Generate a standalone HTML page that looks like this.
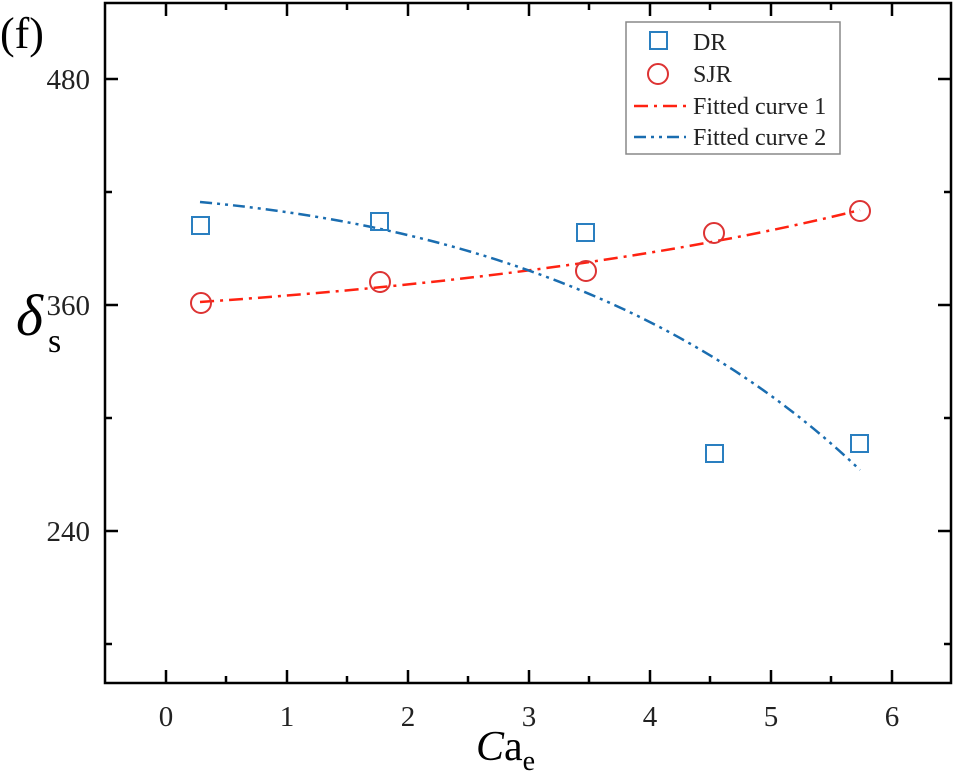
<!DOCTYPE html>
<html><head><style>body{margin:0;background:#fff}</style></head><body>
<svg width="955" height="774" xmlns="http://www.w3.org/2000/svg" font-family="Liberation Serif, serif">
<rect x="105" y="3" width="846" height="680" fill="none" stroke="#000" stroke-width="2.5"/>
<g stroke="#000" stroke-width="2.5">
<path d="M166 683v-13M287 683v-13M408 683v-13M529 683v-13M650 683v-13M771 683v-13M892 683v-13"/>
<path d="M166 3v13M287 3v13M408 3v13M529 3v13M650 3v13M771 3v13M892 3v13"/>
<path d="M226 683v-7M347 683v-7M468 683v-7M589 683v-7M710 683v-7M831 683v-7"/>
<path d="M226 3v7M347 3v7M468 3v7M589 3v7M710 3v7M831 3v7"/>
<path d="M105 79h13M105 305h13M105 531h13M951 79h-13M951 305h-13M951 531h-13"/>
<path d="M105 192h7M105 418h7M105 644h7M951 192h-7M951 418h-7M951 644h-7"/>
</g>
<g font-size="29" fill="#222">
<text x="166" y="726" text-anchor="middle">0</text><text x="287" y="726" text-anchor="middle">1</text>
<text x="408" y="726" text-anchor="middle">2</text><text x="529" y="726" text-anchor="middle">3</text>
<text x="650" y="726" text-anchor="middle">4</text><text x="771" y="726" text-anchor="middle">5</text>
<text x="892" y="726" text-anchor="middle">6</text>
<text x="90" y="89" text-anchor="end">480</text><text x="90" y="315" text-anchor="end">360</text><text x="90" y="541" text-anchor="end">240</text>
</g>
<text x="0" y="48" font-size="44">(f)</text>
<text x="16" y="335" font-size="58" font-style="italic">δ</text><text x="48" y="352" font-size="34">s</text>
<text x="476" y="760" font-size="42"><tspan font-style="italic">C</tspan>a<tspan font-size="28" dy="10">e</tspan></text>
<path d="M200 302 Q600 275 860 210" fill="none" stroke="#f21" stroke-width="2.5" stroke-dasharray="14,6,3,6"/>
<path d="M200 202 Q620 240 860 470" fill="none" stroke="#1a6db0" stroke-width="2.5" stroke-dasharray="12,5,3,5,3,5"/>
<g fill="none" stroke="#2a7fc0" stroke-width="2">
<rect x="192" y="217" width="17" height="17"/><rect x="371" y="213" width="17" height="17"/>
<rect x="577" y="224" width="17" height="17"/><rect x="706" y="445" width="17" height="17"/><rect x="851" y="435" width="17" height="17"/>
</g>
<g fill="none" stroke="#d33" stroke-width="2">
<circle cx="201" cy="303" r="10"/><circle cx="380" cy="282" r="10"/><circle cx="586" cy="271" r="10"/>
<circle cx="714" cy="233" r="10"/><circle cx="860" cy="211" r="10"/>
</g>
<rect x="626" y="22" width="214" height="132" fill="#fff" stroke="#888" stroke-width="1.5"/>
<rect x="650" y="32" width="17" height="17" fill="none" stroke="#2a7fc0" stroke-width="2"/>
<circle cx="658" cy="74" r="10" fill="none" stroke="#d33" stroke-width="2"/>
<path d="M634 106h52" stroke="#f21" stroke-width="2.5" stroke-dasharray="14,6,3,6"/>
<path d="M634 137h52" stroke="#1a6db0" stroke-width="2.5" stroke-dasharray="12,5,3,5,3,5"/>
<g font-size="24" fill="#222">
<text x="693" y="50">DR</text><text x="693" y="82">SJR</text>
<text x="693" y="114">Fitted curve 1</text><text x="693" y="145">Fitted curve 2</text>
</g>
</svg>
</body></html>
